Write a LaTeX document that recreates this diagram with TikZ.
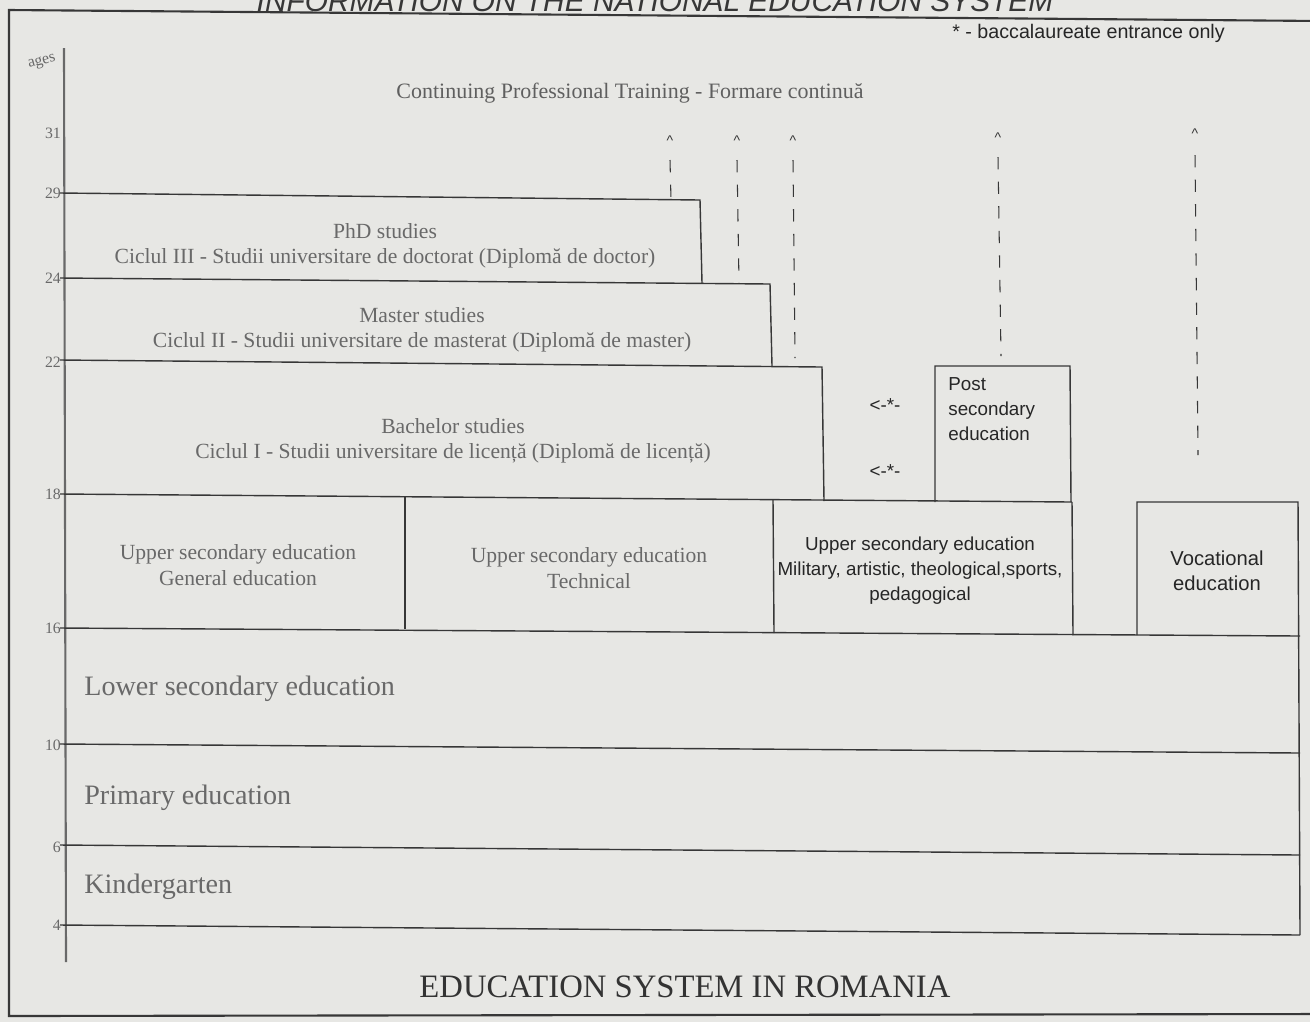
\documentclass[tikz,border=0pt]{standalone}
\usepackage{fontspec}
\setmainfont{Liberation Serif}
\setsansfont{Liberation Sans}
\definecolor{paper}{RGB}{231,231,228}
\definecolor{ink}{RGB}{55,55,55}
\definecolor{greytext}{RGB}{105,105,105}
\tikzset{
	wall/.style={draw=ink, line width=0.8pt},
	route/.style={draw=ink, line width=0.6pt, dash pattern=on 7pt off 7pt},
	greylabel/.style={text=greytext, font=\fontsize{12.3}{14.5}\selectfont, align=center, inner sep=0pt},
	rowlabel/.style={text=greytext, font=\fontsize{16}{18}\selectfont, anchor=west, inner sep=0pt},
	sanslabel/.style={text=black!85, font=\sffamily\fontsize{10.7}{14.2}\selectfont, align=center, inner sep=0pt},
	agelabel/.style={text=greytext, font=\fontsize{9}{10}\selectfont, anchor=east, inner sep=1pt},
	hat/.style={text=ink, font=\sffamily\fontsize{8}{9}\selectfont, inner sep=0pt},
}
\begin{document}
\begin{tikzpicture}[x=0.02cm, y=-0.02cm]
	% page size and paper
	\useasboundingbox (0,0) rectangle (1310,1022);
	\clip (0,0) rectangle (1310,1022);
	\fill[paper] (0,0) rectangle (1310,1022);

	% cut-off heading and frame
	\node[anchor=base, text=ink, font=\sffamily\itshape\fontsize{17}{20}\selectfont] (heading) at (655,11) {INFORMATION ON THE NATIONAL EDUCATION SYSTEM};
	\draw[wall, line width=1.2pt] (1320,21) -- (9,10) -- (9,1016) -- (1320,1014);

	% age axis
	\draw[wall, draw=greytext, line width=1.2pt] (64,48) -- (66,962);
	\node[agelabel, anchor=center, rotate=15] (ages) at (42,62) {ages};
	\node[agelabel] (a31) at (63,133) {31};
	\node[agelabel] (a29) at (63,193) {29};
	\node[agelabel] (a24) at (63,278) {24};
	\node[agelabel] (a22) at (63,362) {22};
	\node[agelabel] (a18) at (63,494) {18};
	\node[agelabel] (a16) at (63,628) {16};
	\node[agelabel] (a10) at (63,745) {10};
	\node[agelabel] (a6) at (63,847) {6};
	\node[agelabel] (a4) at (63,925) {4};

	% notes on top
	\node[sanslabel, font=\sffamily\fontsize{11.2}{14}\selectfont, anchor=west] (note) at (952,33) {* - baccalaureate entrance only};
	\node[greylabel, text=ink!80, font=\fontsize{12.5}{14.5}\selectfont] (training) at (630,93) {Continuing Professional Training - Formare continuă};

	% university steps
	\draw[wall] (60,193) -- (700,200) -- (702,283);
	\draw[wall] (60,278) -- (770,284) -- (772,366);
	\draw[wall] (60,360) -- (822,367) -- (824,501);
	\draw[wall] (935,502) -- (935,366) -- (1070,366) -- (1071,502);
	\draw[wall] (60,494) -- (1072,502);

	% upper secondary row
	\draw[wall] (405,497) -- (405,629);
	\draw[wall] (773,500) -- (774,633);
	\draw[wall] (1072,502) -- (1073,635);
	\draw[wall] (1137,635) -- (1137,502) -- (1298,502) -- (1300,935);

	% lower rows
	\draw[wall] (60,628) -- (1300,636);
	\draw[wall] (60,744) -- (1300,753);
	\draw[wall] (60,845) -- (1300,855);
	\draw[wall] (60,925) -- (1300,935);

	% dashed routes to continuing training
	\node[hat] (h1) at (670,141) {\textasciicircum};
	\node[hat] (h2) at (737,141) {\textasciicircum};
	\node[hat] (h3) at (793,141) {\textasciicircum};
	\node[hat] (h4) at (998,138) {\textasciicircum};
	\node[hat] (h5) at (1195,134) {\textasciicircum};
	\draw[route] (670,160) -- (671,200);
	\draw[route] (737,160) -- (739,283);
	\draw[route] (793,160) -- (795,358);
	\draw[route] (998,157) -- (1001,356);
	\draw[route] (1195,155) -- (1198,455);
	\node[sanslabel] (entry1) at (885,405) {<-*-};
	\node[sanslabel] (entry2) at (885,471) {<-*-};

	% labels
	\node[greylabel] (phd) at (385,246) {PhD studies\\Ciclul III - Studii universitare de doctorat (Diplomă de doctor)};
	\node[greylabel] (master) at (422,330) {Master studies\\Ciclul II - Studii universitare de masterat (Diplomă de master)};
	\node[greylabel] (bachelor) at (453,441) {Bachelor studies\\Ciclul I - Studii universitare de licență (Diplomă de licență)};
	\node[sanslabel, align=left, anchor=north west] (postsec) at (948,377) {Post\\secondary\\education};
	\node[greylabel] (general) at (238,565) {Upper secondary education\\General education};
	\node[greylabel] (technical) at (589,568) {Upper secondary education\\Technical};
	\node[sanslabel] (military) at (920,571) {Upper secondary education\\Military, artistic, theological,sports,\\pedagogical};
	\node[sanslabel, font=\sffamily\fontsize{11.5}{14.2}\selectfont] (vocational) at (1217,571) {Vocational\\education};
	\node[rowlabel] (lower) at (84,689) {Lower secondary education};
	\node[rowlabel] (primary) at (84,798) {Primary education};
	\node[rowlabel] (kinder) at (84,887) {Kindergarten};

	% caption
	\node[text=black!80, font=\fontsize{18.6}{21}\selectfont] (caption) at (685,987) {EDUCATION SYSTEM IN ROMANIA};
\end{tikzpicture}
\end{document}
